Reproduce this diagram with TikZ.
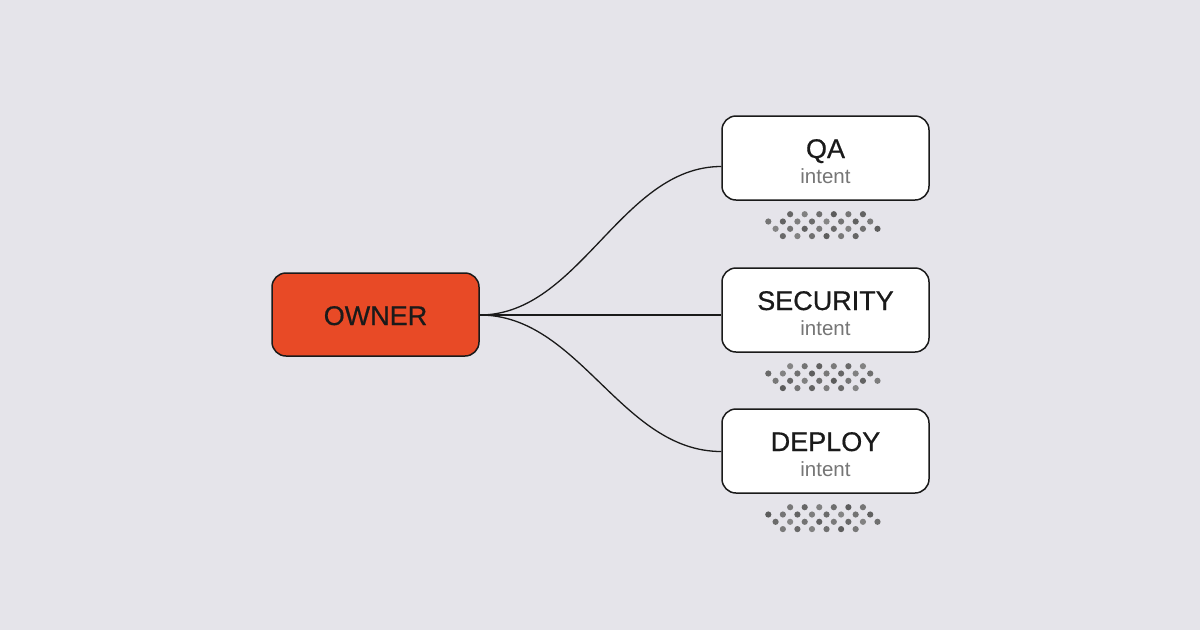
\documentclass[tikz,border=0pt]{standalone}
\usepackage{fontspec}
\setmainfont{Liberation Sans}
\newfontfamily\titlefont[FakeBold=0.6]{Liberation Sans}
\definecolor{bg}{HTML}{E5E4EA}
\definecolor{ownerfill}{HTML}{E84A26}
\definecolor{ink}{HTML}{1A1A1A}
\definecolor{subgray}{HTML}{767676}
\begin{document}
\begin{tikzpicture}[x=1pt,y=-1pt,
  box/.style={draw=ink,line width=1.5pt,rounded corners=14pt,minimum width=207pt,minimum height=84pt,inner sep=0pt,fill=white},
  titletext/.style={anchor=base,inner sep=0pt,text=ink,font=\titlefont\fontsize{27}{30}\selectfont},
  subtext/.style={anchor=base,inner sep=0pt,text=subgray,font=\fontsize{20.5}{24}\selectfont},
  wire/.style={draw=ink,line width=1.3pt}]
\useasboundingbox (0,0) rectangle (1200,630);
\fill[bg] (0,0) rectangle (1200,630);

\node[box,fill=ownerfill,minimum height=83pt] (owner) at (375.5,314.5) {};
\node[titletext] (ownert) at (375.5,325) {OWNER};

\node[box] (qa) at (825.5,158) {};
\node[titletext] (qat) at (825.5,158) {QA};
\node[subtext] (qas) at (825.5,183.3) {intent};

\node[box] (sec) at (825.5,310) {};
\node[titletext] (sect) at (825.5,310) {SECURITY};
\node[subtext] (secs) at (825.5,335.3) {intent};

\node[box] (dep) at (825.5,451) {};
\node[titletext] (dept) at (825.5,451) {DEPLOY};
\node[subtext] (deps) at (825.5,476.3) {intent};

\coordinate (o) at ([yshift=-0.5pt]owner.east);
\coordinate (qin) at (qa.west |- 0,166.5);
\coordinate (sin) at (sec.west |- o);
\coordinate (din) at (dep.west |- 0,451.5);
\draw[wire] (o) .. controls ([xshift=100pt]o) and ([xshift=-100pt]qin) .. (qin);
\draw[wire] (o) -- (sin);
\draw[wire] (o) .. controls ([xshift=100pt]o) and ([xshift=-100pt]din) .. (din);

% dot patterns
\foreach \cy [count=\k] in {158,310,451}{
  \foreach \r/\n/\st in {0/6/3,1/8/0,2/8/1,3/6/2}{
    \foreach \i in {1,...,\n}{
      \pgfmathsetmacro\dx{768.3+\st*7.28+(\i-1)*14.56}
      \pgfmathsetmacro\dy{\cy+56.2+\r*7.3}
      \pgfmathtruncatemacro\sh{48+mod(\i*7+\r*11+\k*5,17)}
      \fill[black!\sh] (\dx,\dy) circle (3.1pt);
    }
  }
}
\end{tikzpicture}
\end{document}
